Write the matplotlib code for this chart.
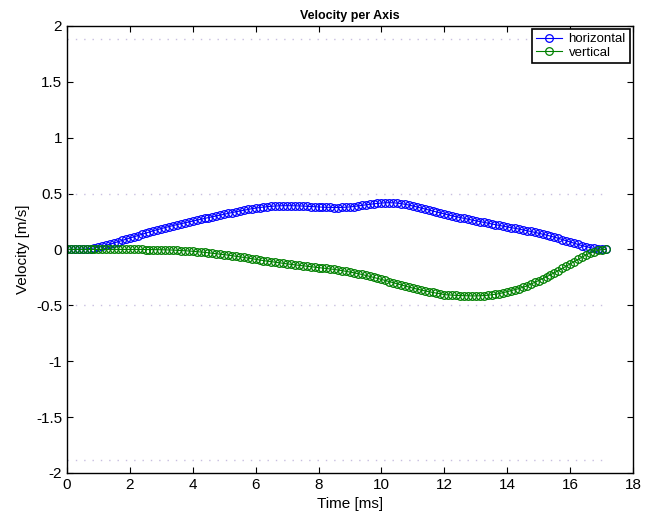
import numpy as np
import matplotlib
matplotlib.use("Agg")
import matplotlib.pyplot as plt

plt.rcParams['font.family'] = ['Liberation Sans', 'DejaVu Sans']

# sample spacing of the recording, ms
dt = 0.125

# horizontal velocity [m/s], one row per ms
horizontal = [
    0, 0, 0, 0.001, 0.002, 0.004, 0.008, 0.013,
    0.020, 0.028, 0.037, 0.047, 0.058, 0.069, 0.080, 0.091,
    0.102, 0.113, 0.124, 0.135, 0.146, 0.157, 0.167, 0.177,
    0.187, 0.196, 0.205, 0.214, 0.222, 0.230, 0.238, 0.246,
    0.254, 0.262, 0.269, 0.277, 0.285, 0.292, 0.300, 0.307,
    0.315, 0.322, 0.330, 0.337, 0.344, 0.351, 0.358, 0.364,
    0.370, 0.375, 0.379, 0.383, 0.386, 0.388, 0.390, 0.391,
    0.391, 0.391, 0.390, 0.389, 0.388, 0.386, 0.384, 0.382,
    0.380, 0.378, 0.377, 0.376, 0.375, 0.375, 0.376, 0.378,
    0.380, 0.384, 0.389, 0.394, 0.399, 0.404, 0.408, 0.412,
    0.415, 0.417, 0.418, 0.417, 0.414, 0.410, 0.404, 0.397,
    0.389, 0.380, 0.371, 0.362, 0.352, 0.343, 0.334, 0.325,
    0.316, 0.308, 0.300, 0.293, 0.285, 0.278, 0.270, 0.263,
    0.256, 0.249, 0.242, 0.236, 0.229, 0.222, 0.215, 0.208,
    0.201, 0.195, 0.188, 0.182, 0.175, 0.168, 0.161, 0.153,
    0.145, 0.137, 0.128, 0.119, 0.110, 0.099, 0.088, 0.077,
    0.066, 0.055, 0.044, 0.034, 0.025, 0.017, 0.010, 0.005,
    0.002, 0.0,
]

# vertical velocity [m/s], one row per ms
vertical = [
    0, 0, 0, 0, 0, 0, 0, 0,
    0, 0, 0, 0, 0, 0, 0, 0,
    0, 0, 0, 0, -0.001, -0.001, -0.002, -0.002,
    -0.003, -0.004, -0.005, -0.006, -0.008, -0.010, -0.012, -0.014,
    -0.017, -0.020, -0.023, -0.026, -0.030, -0.034, -0.038, -0.042,
    -0.046, -0.051, -0.056, -0.061, -0.066, -0.071, -0.077, -0.083,
    -0.089, -0.095, -0.100, -0.105, -0.110, -0.115, -0.120, -0.125,
    -0.130, -0.134, -0.138, -0.142, -0.146, -0.150, -0.154, -0.158,
    -0.162, -0.166, -0.170, -0.174, -0.179, -0.184, -0.190, -0.196,
    -0.202, -0.209, -0.216, -0.224, -0.232, -0.241, -0.250, -0.259,
    -0.268, -0.278, -0.288, -0.298, -0.308, -0.318, -0.328, -0.337,
    -0.346, -0.355, -0.363, -0.371, -0.378, -0.385, -0.391, -0.396,
    -0.405, -0.407, -0.409, -0.411, -0.413, -0.414, -0.415, -0.416,
    -0.416, -0.415, -0.413, -0.410, -0.406, -0.401, -0.395, -0.387,
    -0.378, -0.369, -0.360, -0.350, -0.339, -0.327, -0.311, -0.295,
    -0.279, -0.262, -0.245, -0.227, -0.209, -0.190, -0.170, -0.150,
    -0.130, -0.109, -0.089, -0.069, -0.050, -0.033, -0.019, -0.009,
    -0.003, 0.0,
]

# dotted reference levels [m/s]
ref_levels = [1.88, 0.5, -0.5, -1.88]

x_ticks = [0, 2, 4, 6, 8, 10, 12, 14, 16, 18]
y_ticks = [-2, -1.5, -1, -0.5, 0, 0.5, 1, 1.5, 2]
y_tick_labels = ["-2", "-1.5", "-1", "-0.5", "0", "0.5", "1", "1.5", "2"]

time = np.arange(len(horizontal)) * dt

fig = plt.figure(figsize=(6.56, 5.18), dpi=100)
ax = fig.add_axes([0.102, 0.087, 0.863, 0.863])

ax.hlines(ref_levels, time[0], time[-1], colors="#c8bfe0", linestyles=(0, (1, 5)), linewidth=1.0)

ax.plot(time, horizontal, "-o", color="#0000ff", markerfacecolor="none",
        markersize=5.5, markeredgewidth=0.9, linewidth=0.8, label="horizontal")
ax.plot(time, vertical, "-o", color="#008000", markerfacecolor="none",
        markersize=5.5, markeredgewidth=0.9, linewidth=0.8, label="vertical")

ax.set_xlim(0, 18)
ax.set_ylim(-2, 2)
ax.set_xticks(x_ticks)
ax.set_yticks(y_ticks)
ax.set_yticklabels(y_tick_labels)
ax.tick_params(direction="in", top=True, right=True, length=4, width=0.8, labelsize=11)
for s in ax.spines.values():
    s.set_linewidth(1.0)

ax.set_xlabel("Time [ms]", fontsize=11)
ax.set_ylabel("Velocity [m/s]", fontsize=11)
ax.set_title("Velocity per Axis", fontsize=9, fontweight="bold", pad=5)

leg = ax.legend(loc="upper right", fontsize=9.5, fancybox=False, framealpha=1,
                edgecolor="black", borderpad=0.3, labelspacing=0.1,
                handlelength=2.0, handletextpad=0.5, borderaxespad=0.25)
leg.get_frame().set_linewidth(1.2)

fig.savefig("out.png", dpi=100)
